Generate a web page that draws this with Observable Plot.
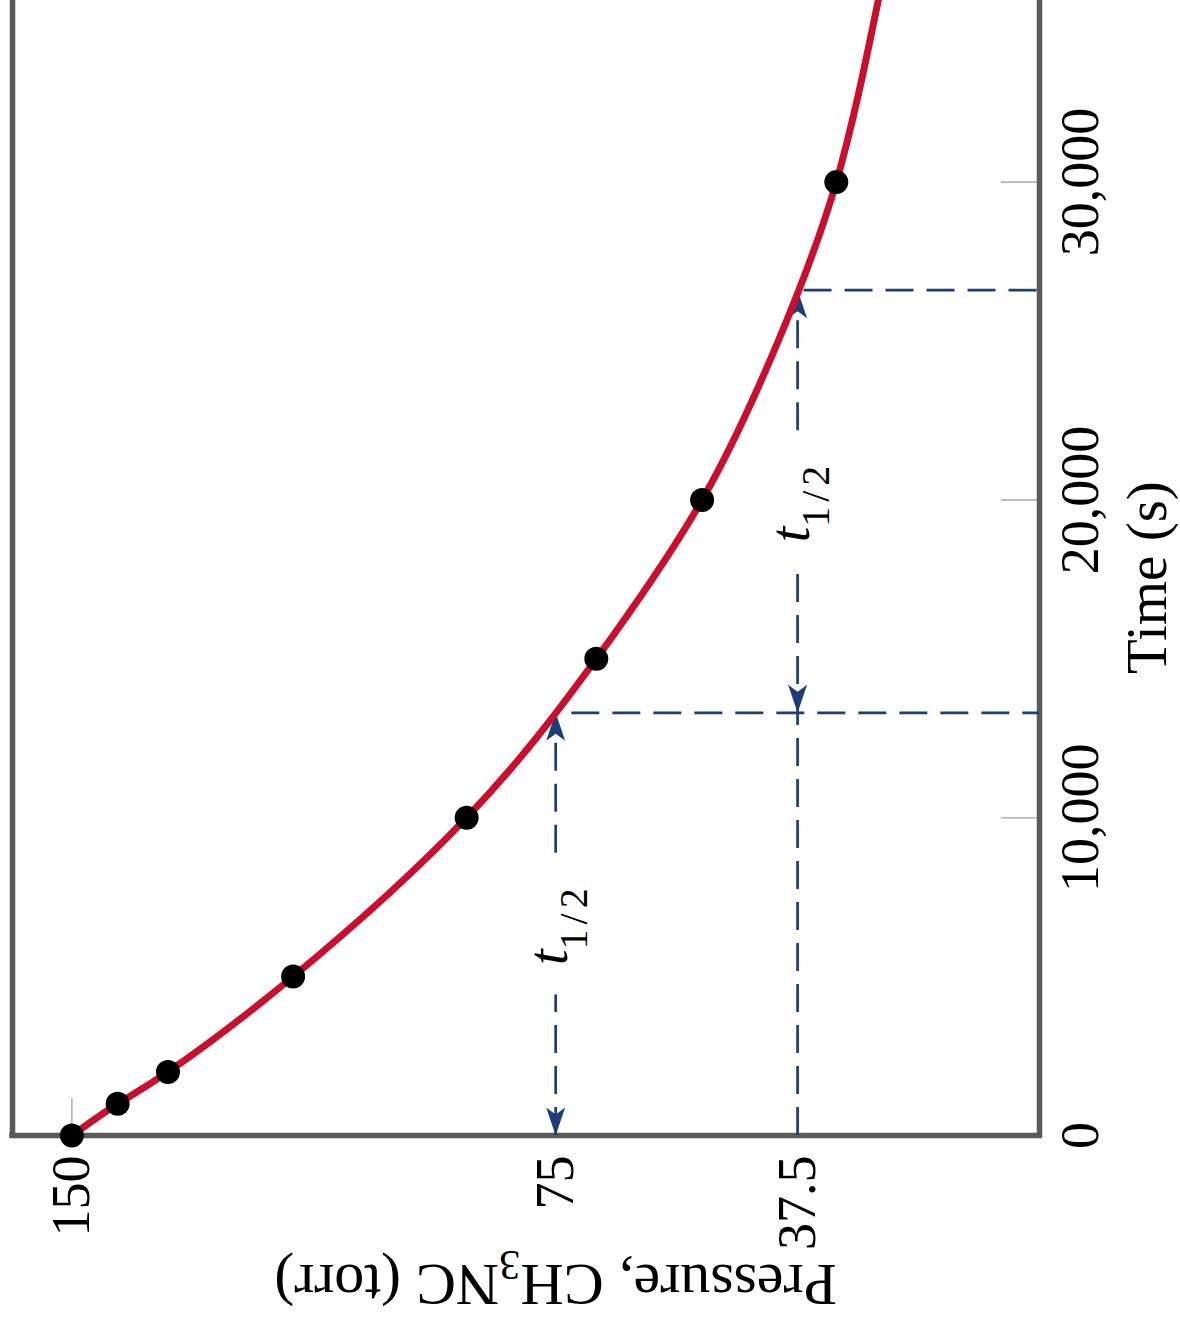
<!DOCTYPE html>
<html>
<head>
<meta charset="utf-8">
<script src="https://cdn.jsdelivr.net/npm/d3@7"></script>
<script src="https://cdn.jsdelivr.net/npm/@observablehq/plot@0.6"></script>
<style>
  html, body { margin: 0; padding: 0; background: #fff; overflow: hidden; }
  #chart svg { display: block; }
</style>
</head>
<body>
<div id="chart"></div>
<script>
// ---------- data ----------
const timePoints     = [0, 1000, 2000, 5000, 10000, 15000, 20000, 30000];      // s
const pressurePoints = [150, 142.9, 135.1, 115.7, 88.8, 68.7, 52.3, 31.5];     // torr
const curveTime      = [0, 1000, 2000, 5000, 10000, 15000, 20000, 25000, 30000, 35715];
const curvePressure  = [150, 142.9, 135.1, 115.7, 88.8, 68.7, 52.3, 40.5, 31.5, 25.0];
const timeTicks      = [0, 10000, 20000, 30000];
const pressureTicks  = [150, 75, 37.5];
const halfLifeTimes  = [13300, 26600];   // times where P reaches 75 and 37.5 torr
const halfLifePressures = [75, 37.5];
const timeLabel      = "Time (s)";
const pressureLabelParts = ["Pressure, CH", "3", "NC (torr)"];
const halfLifeLabelParts = ["t", "1/2"];

// ---------- styling ----------
const FONT = "'Liberation Serif', 'Times New Roman', serif";
const RED = "#c8102e";
const NAVY = "#1e3c78";
const FRAME = "#5a5a5a";
const TICK = "#b4b4b4";

const xDomain = [159.2, 0];     // pressure, reversed (high on the left)
const yDomain = [0, 35715];     // time, increasing upward

const points = timePoints.map((t, i) => ({t, p: pressurePoints[i]}));
const curve = curveTime.map((t, i) => ({t, p: curvePressure[i]}));
const [t1, t2] = halfLifeTimes;
const [p1, p2] = halfLifePressures;
const labelGap = 2230;                 // half-height of the gap around the t1/2 labels (s)
const labelT = [t1 / 2, (t1 + t2) / 2];

const pSegments = [
  {p: p1, a: 0, b: labelT[0] - labelGap},
  {p: p1, a: labelT[0] + labelGap, b: t1},
  {p: p2, a: 0, b: labelT[1] - labelGap},
  {p: p2, a: labelT[1] + labelGap, b: t2}
];
const tSegments = [
  {t: t1, a: p1 - 2.5, b: 0},
  {t: t2, a: p2 - 1, b: 0}
];
const arrowsUp = [{p: p1, t: t1}, {p: p2, t: t2}];
const arrowsDown = [{p: p1, t: 0}, {p: p2, t: t1}];
const halfLabels = [{p: p1, t: labelT[0]}, {p: p2, t: labelT[1]}];

const arrowUp = {draw(ctx) { ctx.moveTo(0, 0); ctx.lineTo(9.5, 28); ctx.lineTo(0, 21); ctx.lineTo(-9.5, 28); ctx.closePath(); }};
const arrowDown = {draw(ctx) { ctx.moveTo(0, 0); ctx.lineTo(9.5, -28); ctx.lineTo(0, -21); ctx.lineTo(-9.5, -28); ctx.closePath(); }};

const pressureLabel = pressureLabelParts.join("");
const halfLifeLabel = halfLifeLabelParts.join("");

const chart = Plot.plot({
  width: 1180,
  height: 1331,
  marginLeft: 12,
  marginRight: 141,
  marginTop: 0,
  marginBottom: 196,
  style: {fontFamily: FONT, background: "#fff"},
  x: {domain: xDomain, axis: null},
  y: {domain: yDomain, axis: null},
  marks: [
    // light ticks
    Plot.ruleY(timeTicks.filter(d => d > 0), {y: d => d, x1: () => 0, x2: () => 5.9, stroke: TICK, strokeWidth: 1.6}),
    Plot.ruleX(pressureTicks.filter(d => !halfLifePressures.includes(d)), {x: d => d, y1: () => 0, y2: () => 1160, stroke: TICK, strokeWidth: 1.6}),
    // frame
    Plot.ruleX([xDomain[0], xDomain[1]], {x: d => d, stroke: FRAME, strokeWidth: 5.5, strokeLinecap: "square"}),
    Plot.ruleY([yDomain[0]], {y: d => d, stroke: FRAME, strokeWidth: 5.5, strokeLinecap: "square"}),
    // half-life construction lines
    Plot.ruleX(pSegments, {x: "p", y1: "a", y2: "b", stroke: NAVY, strokeWidth: 2.7, strokeDasharray: "28,13"}),
    Plot.ruleY(tSegments, {y: "t", x1: "a", x2: "b", stroke: NAVY, strokeWidth: 2.7, strokeDasharray: "28,13"}),
    Plot.dot(arrowsUp, {x: "p", y: "t", symbol: arrowUp, fill: NAVY, stroke: "none", r: 10}),
    Plot.dot(arrowsDown, {x: "p", y: "t", symbol: arrowDown, fill: NAVY, stroke: "none", r: 10}),
    // decay curve and measurements
    Plot.line(curve, {x: "p", y: "t", curve: "natural", stroke: RED, strokeWidth: 7}),
    Plot.dot(points, {x: "p", y: "t", r: 12, fill: "#000", stroke: "none"}),
    // t1/2 labels
    Plot.text(halfLabels, {x: "p", y: "t", text: () => halfLifeLabel, dx: 11, rotate: -90,
      textAnchor: "middle", lineAnchor: "bottom", fontSize: 56, fill: "#000"}),
    // time tick labels
    Plot.text(timeTicks, {y: d => d, x: () => 0, dx: 41, text: d => d3.format(",")(d), rotate: -90,
      textAnchor: "middle", lineAnchor: "middle", fontSize: 54, fill: "#000"}),
    // pressure tick labels
    Plot.text(pressureTicks, {x: d => d, y: () => 0, dy: 20, text: d => String(d), rotate: -90,
      textAnchor: "end", lineAnchor: "middle", fontSize: 54, fill: "#000"}),
    // axis titles
    Plot.text([timeLabel], {x: () => 0, y: () => (yDomain[0] + yDomain[1]) / 2 - 300, dx: 108, text: d => d,
      rotate: -90, textAnchor: "middle", lineAnchor: "middle", fontSize: 57, fill: "#000"}),
    Plot.text([pressureLabel], {x: () => pressureTicks[0] / 2, y: () => 0, dy: 149, text: d => d,
      rotate: 180, textAnchor: "middle", lineAnchor: "middle", fontSize: 60, fill: "#000"})
  ]
});

document.getElementById("chart").appendChild(chart);

// subscripts as real text
d3.select(chart).selectAll("text").each(function () {
  const el = d3.select(this);
  const txt = el.text();
  if (txt === pressureLabel) {
    el.text(null);
    el.append("tspan").text(pressureLabelParts[0]);
    el.append("tspan").attr("font-size", "42px").attr("dy", "14px").text(pressureLabelParts[1]);
    el.append("tspan").attr("dy", "-14px").text(pressureLabelParts[2]);
  } else if (txt === halfLifeLabel) {
    el.text(null);
    el.append("tspan").attr("font-style", "italic").text(halfLifeLabelParts[0]);
    el.append("tspan").attr("font-size", "40px").attr("dy", "20px").attr("letter-spacing", "5px")
      .text(halfLifeLabelParts[1]);
  }
});
</script>
</body>
</html>
